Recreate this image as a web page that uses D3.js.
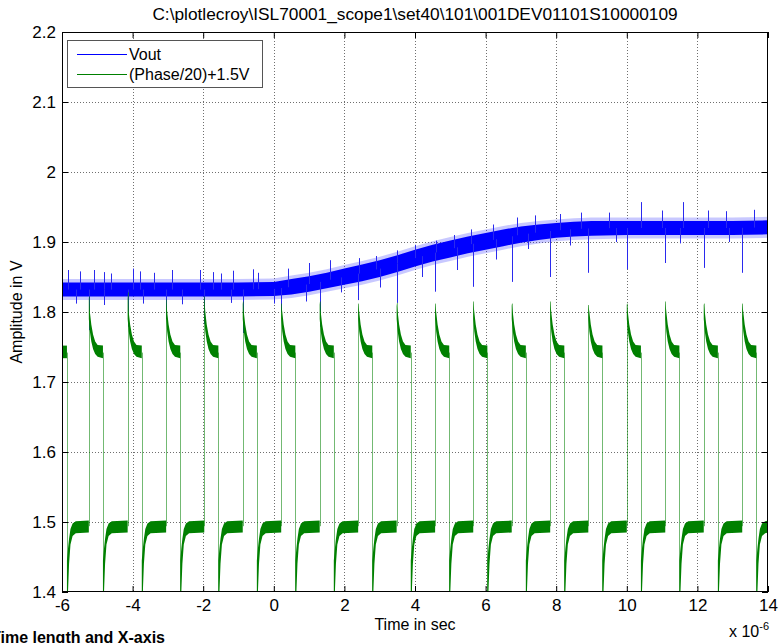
<!DOCTYPE html>
<html>
<head>
<meta charset="utf-8">
<script src="https://cdn.jsdelivr.net/npm/d3@7"></script>
<style>
  body { margin: 0; background: #fff; }
  svg { display: block; }
  text { font-family: "Liberation Sans", Arial, Helvetica, sans-serif; fill: #000; }
</style>
</head>
<body>
<svg id="chart" width="779" height="643"></svg>
<script>
// ---- labels ----
const titleText = "C:\\plotlecroy\\ISL70001_scope1\\set40\\101\\001DEV01101S10000109";
const xLabel = "Time in sec";
const yLabel = "Amplitude in V";
const footText = "Time length and X-axis";
const seriesNames = ["Vout", "(Phase/20)+1.5V"];
const seriesColors = ["#0000ff", "#008000"];

// ---- ticks (time in microseconds, amplitude in volts) ----
const xTicks = [-6, -4, -2, 0, 2, 4, 6, 8, 10, 12, 14];
const yTicks = [1.4, 1.5, 1.6, 1.7, 1.8, 1.9, 2.0, 2.1, 2.2];

// ---- Vout: envelope of the dense scope record ----
const voutTime = [-6, -5, -4, -3, -2, -1, 0, 0.5, 1, 1.5, 2, 2.5, 3, 3.5, 4, 4.5, 5, 5.5, 6, 6.5, 7, 7.5, 8, 8.5, 9, 10, 11, 12, 13, 14];
const voutLow  = [1.822, 1.822, 1.822, 1.822, 1.822, 1.822, 1.823, 1.825, 1.829, 1.834, 1.839, 1.844, 1.850, 1.857, 1.865, 1.872, 1.878, 1.884, 1.889, 1.894, 1.899, 1.903, 1.906, 1.908, 1.909, 1.910, 1.910, 1.910, 1.910, 1.911];
const voutHigh = [1.842, 1.842, 1.842, 1.842, 1.842, 1.842, 1.843, 1.847, 1.851, 1.856, 1.862, 1.868, 1.874, 1.881, 1.889, 1.896, 1.902, 1.908, 1.913, 1.918, 1.922, 1.925, 1.927, 1.929, 1.930, 1.930, 1.930, 1.930, 1.930, 1.931];
// isolated excursions outside the band [time, volts]
const voutSpikeTime = [-5.83, -5.5, -5.1, -4.81, -4.6, -4.0, -3.79, -3.4, -2.88, -2.1, -1.72, -1.5, -1.16, -0.6, -0.45, 0.4, 1.0, 1.6, 2.4, 2.9, 3.5, 4.0, 4.6, 5.1, 5.6, 6.2, 6.9, 7.4, 8.1, 8.7, 9.5, 10.4, 11.0, 11.6, 12.3, 12.8, 13.6,
                       -5.6, -4.8, -3.7, -2.6, -1.2, 0.0, 0.9, 1.9, 3.0, 4.2, 5.2, 6.3, 7.2, 8.4, 9.7, 11.5, 12.9];
const voutSpikeVal  = [1.860, 1.858, 1.860, 1.857, 1.855, 1.862, 1.858, 1.856, 1.860, 1.860, 1.857, 1.855, 1.859, 1.861, 1.856, 1.862, 1.870, 1.874, 1.877, 1.880, 1.888, 1.896, 1.902, 1.910, 1.918, 1.925, 1.935, 1.938, 1.940, 1.942, 1.942, 1.957, 1.945, 1.957, 1.945, 1.944, 1.946,
                       1.812, 1.810, 1.812, 1.811, 1.813, 1.812, 1.815, 1.828, 1.835, 1.850, 1.860, 1.875, 1.890, 1.895, 1.900, 1.898, 1.900];

// ---- Phase trace: switching edges and edge peaks ----
const risingEdges  = [-5.24, -4.14, -3.05, -1.97, -0.88, 0.21, 1.30, 2.39, 3.48, 4.57, 5.65, 6.74, 7.83, 8.91, 10.00, 11.09, 12.18, 13.27];
const fallingEdges = [-5.86, -4.84, -3.74, -2.65, -1.57, -0.48, 0.61, 1.70, 2.79, 3.88, 4.97, 6.05, 7.14, 8.23, 9.31, 10.40, 11.49, 12.58, 13.67];
const edgePeaks    = [1.822, 1.828, 1.818, 1.822, 1.815, 1.812, 1.815, 1.812, 1.813, 1.812, 1.815, 1.812, 1.815, 1.810, 1.812, 1.815, 1.812, 1.812];
// Vout glitch depth at each rising edge
const edgeGlitch   = [1.774, 1.779, 1.790, 1.783, 1.770, 1.800, 1.779, 1.817, 1.813, 1.829, 1.836, 1.843, 1.850, 1.856, 1.861, 1.870, 1.863, 1.856];

// settled shape after a rising edge: offset (us), lower, upper (V)
const highDt = [0.00, 0.03, 0.07, 0.12, 0.18, 0.25, 0.40];
const highLo = [1.790, 1.772, 1.758, 1.747, 1.740, 1.736, 1.734];
const highHi = [1.822, 1.800, 1.782, 1.768, 1.758, 1.753, 1.752];
// settled shape after a falling edge
const lowDt = [0.00, 0.03, 0.06, 0.10, 0.16, 0.25, 0.70];
const lowLo = [1.400, 1.400, 1.440, 1.468, 1.480, 1.484, 1.485];
const lowHi = [1.445, 1.462, 1.476, 1.490, 1.498, 1.501, 1.502];

// ---- layout ----
const svg = d3.select("#chart");
const margin = { left: 62, right: 11, top: 32, bottom: 51 };
const W = 779, H = 643;
const x = d3.scaleLinear().domain([-6, 14]).range([margin.left, W - margin.right]);
const y = d3.scaleLinear().domain([1.4, 2.2]).range([H - margin.bottom, margin.top]);
const x0 = x.range()[0], x1 = x.range()[1], y0 = y.range()[0], y1 = y.range()[1];

svg.append("rect").attr("width", W).attr("height", H).attr("fill", "#fff");

svg.append("defs").append("clipPath").attr("id", "plotClip")
  .append("rect").attr("x", x0).attr("y", y1).attr("width", x1 - x0).attr("height", y0 - y1);

// grid
const grid = svg.append("g").attr("stroke", "#6f6f6f").attr("stroke-width", 1).attr("stroke-dasharray", "1,2");
grid.selectAll("line.gx").data(xTicks.slice(1, -1)).join("line")
  .attr("x1", d => Math.round(x(d)) + 0.5).attr("x2", d => Math.round(x(d)) + 0.5)
  .attr("y1", y1).attr("y2", y0);
grid.selectAll("line.gy").data(yTicks.slice(1, -1)).join("line")
  .attr("y1", d => Math.round(y(d)) + 0.5).attr("y2", d => Math.round(y(d)) + 0.5)
  .attr("x1", x0).attr("x2", x1);

const plot = svg.append("g").attr("clip-path", "url(#plotClip)");

// ---- Vout ----
const voutRows = voutTime.map((t, i) => ({ t, lo: voutLow[i], hi: voutHigh[i] }));
const bandArea = d3.area().x(d => x(d.t)).y0(d => y(d.lo)).y1(d => y(d.hi));
// soft fringe of the noisy record
plot.append("path").datum(voutRows)
  .attr("d", d3.area().x(d => x(d.t)).y0(d => y(d.lo - 0.005)).y1(d => y(d.hi + 0.005)))
  .attr("fill", "#3a3aff").attr("opacity", 0.28);
plot.append("path").datum(voutRows).attr("d", bandArea).attr("fill", seriesColors[0]);

const voutMid = d3.scaleLinear().domain(voutTime).range(voutTime.map((t, i) => (voutLow[i] + voutHigh[i]) / 2));
plot.append("g").attr("stroke", "#2a2aee").attr("stroke-width", 1)
  .selectAll("line").data(voutSpikeTime.map((t, i) => ({ t, v: voutSpikeVal[i] }))).join("line")
  .attr("x1", d => Math.round(x(d.t)) + 0.5).attr("x2", d => Math.round(x(d.t)) + 0.5)
  .attr("y1", d => y(voutMid(d.t))).attr("y2", d => y(d.v));
plot.append("g").attr("stroke", "#2a2aee").attr("stroke-width", 1)
  .selectAll("line").data(risingEdges.map((t, i) => ({ t, v: edgeGlitch[i] }))).join("line")
  .attr("x1", d => Math.round(x(d.t)) + 0.5).attr("x2", d => Math.round(x(d.t)) + 0.5)
  .attr("y1", d => y(voutMid(d.t))).attr("y2", d => y(d.v));

// ---- Phase trace ----
function settle(start, end, dt, lo, hi, peak) {
  const pts = [];
  dt.forEach((d, k) => {
    const t = start + d;
    if (t < end) pts.push({ t, lo: lo[k], hi: (k === 0 && peak) ? peak : hi[k] });
  });
  const n = dt.length - 1;
  pts.push({ t: end, lo: lo[n], hi: hi[n] });
  return pts;
}
const segments = [];
// trace starts mid-way through a high phase
segments.push([{ t: -6, lo: highLo[highLo.length - 1], hi: highHi[highHi.length - 1] },
               { t: fallingEdges[0], lo: highLo[highLo.length - 1], hi: highHi[highHi.length - 1] }]);
fallingEdges.forEach((f, i) => {
  const nextRise = i < risingEdges.length ? risingEdges[i] : 14;
  segments.push(settle(f, nextRise, lowDt, lowLo, lowHi));
  if (i < risingEdges.length) {
    const nextFall = fallingEdges[i + 1] !== undefined ? fallingEdges[i + 1] : 14;
    segments.push(settle(risingEdges[i], nextFall, highDt, highLo, highHi, edgePeaks[i]));
  }
});
const green = plot.append("g");
// switching edges
green.append("g").attr("stroke", seriesColors[1]).attr("stroke-opacity", 0.55).attr("stroke-width", 1)
  .selectAll("line").data(risingEdges.map((t, i) => ({ t, a: lowHi[lowHi.length - 1] - 0.008, b: edgePeaks[i] }))
    .concat(fallingEdges.map(t => ({ t, a: highLo[highLo.length - 1] + 0.008, b: 1.40 }))))
  .join("line")
  .attr("x1", d => Math.round(x(d.t)) + 0.5).attr("x2", d => Math.round(x(d.t)) + 0.5)
  .attr("y1", d => y(d.a)).attr("y2", d => y(d.b));
green.selectAll("path.seg").data(segments).join("path")
  .attr("d", bandArea).attr("fill", seriesColors[1]);

// ---- axes: box with inward ticks on all sides ----
const fmt = d => String(+d.toFixed(1));
const fontSize = 17;
const axB = svg.append("g").attr("transform", `translate(0,${y0})`)
  .call(d3.axisBottom(x).tickValues(xTicks).tickSize(-6).tickPadding(7).tickFormat(fmt));
const axT = svg.append("g").attr("transform", `translate(0,${y1})`)
  .call(d3.axisTop(x).tickValues(xTicks).tickSize(-6).tickFormat(""));
const axL = svg.append("g").attr("transform", `translate(${x0},0)`)
  .call(d3.axisLeft(y).tickValues(yTicks).tickSize(-6).tickPadding(6).tickFormat(fmt));
const axR = svg.append("g").attr("transform", `translate(${x1},0)`)
  .call(d3.axisRight(y).tickValues(yTicks).tickSize(-6).tickFormat(""));
[axB, axT, axL, axR].forEach(g => {
  g.select(".domain").remove();
  g.selectAll(".tick line").attr("stroke", "#000");
  g.selectAll("text").attr("font-size", fontSize).attr("font-family", null);
});
svg.append("rect").attr("x", x0 + 0.5).attr("y", y1 + 0.5).attr("width", x1 - x0 - 1).attr("height", y0 - y1 - 1)
  .attr("fill", "none").attr("stroke", "#000");

// ---- texts ----
svg.append("text").attr("x", (x0 + x1) / 2).attr("y", 20).attr("text-anchor", "middle")
  .attr("font-size", 17.3).text(titleText);
svg.append("text").attr("x", (x0 + x1) / 2).attr("y", 630).attr("text-anchor", "middle")
  .attr("font-size", 16).text(xLabel);
svg.append("text").attr("transform", `translate(22,${(y0 + y1) / 2}) rotate(-90)`).attr("text-anchor", "middle")
  .attr("font-size", 16).text(yLabel);
const mult = svg.append("text").attr("x", 729).attr("y", 637).attr("font-size", 16);
mult.append("tspan").text("x 10");
mult.append("tspan").attr("font-size", 11).attr("dy", -7).text("-6");
svg.append("text").attr("x", -9).attr("y", 643).attr("font-size", 16).attr("font-weight", "bold")
  .text(footText);

// ---- legend ----
const lg = svg.append("g");
lg.append("rect").attr("x", 67.5).attr("y", 40.5).attr("width", 195).attr("height", 47)
  .attr("fill", "#fff").attr("stroke", "#555");
seriesNames.forEach((name, i) => {
  const yy = 54 + i * 20;
  lg.append("line").attr("x1", 77).attr("x2", 127).attr("y1", yy + 0.5).attr("y2", yy + 0.5)
    .attr("stroke", seriesColors[i]).attr("stroke-width", 1);
  lg.append("text").attr("x", 129).attr("y", yy + 6).attr("font-size", 16).text(name);
});
</script>
</body>
</html>
